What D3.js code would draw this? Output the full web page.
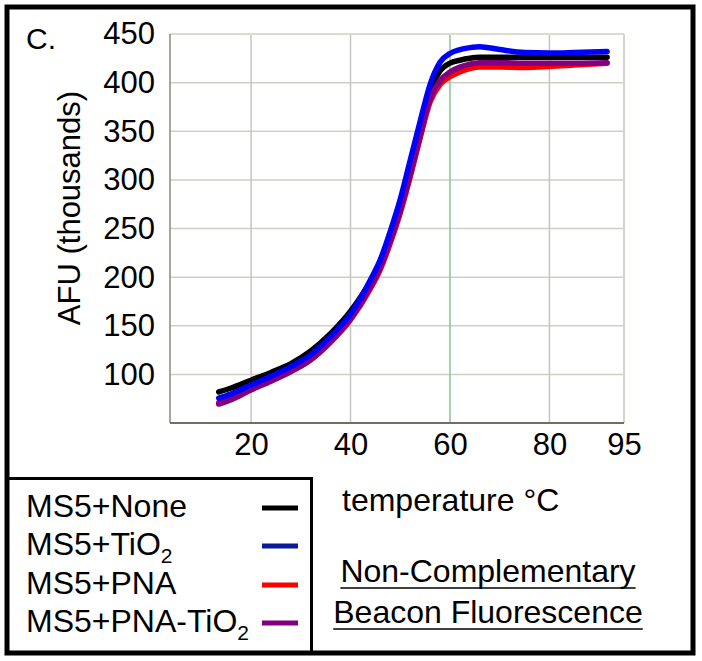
<!DOCTYPE html>
<html>
<head>
<meta charset="utf-8">
<script src="https://cdn.jsdelivr.net/npm/d3@7"></script>
<style>
  body { margin: 0; background: #fff; }
  text { font-family: Arial, "Liberation Sans", sans-serif; fill: #000; }
</style>
</head>
<body>
<div id="chart"></div>
<script>
// temperatures (deg C) where the curves were read
var temps = [13.5, 16, 20, 24, 28, 32, 36, 40, 44, 46, 48, 50, 52, 54, 56, 58, 60, 62, 64, 66, 70, 75, 80, 85, 91.6];

// AFU (thousands) for each sample
var ms5None    = [82, 86, 94, 102, 111, 124, 142, 165, 196, 216, 243, 274, 312, 352, 392, 412, 420, 423, 425, 426, 426, 426, 426, 426, 426];
var ms5Tio2    = [75.5, 80, 89, 98, 108, 120, 139, 162, 197, 218, 247, 280, 320, 360, 398, 421, 430, 434, 436, 437, 434, 431, 430.5, 431, 432];
var ms5Pna     = [71, 75, 85, 94, 103, 115, 133, 156, 188, 208, 235, 266, 303, 343, 380, 398, 406, 411, 414.5, 416, 416, 415.5, 416.5, 418, 420];
var ms5PnaTio2 = [69.5, 74, 84, 93, 103, 115, 134, 157, 190, 210, 237, 268, 305, 345, 383, 402, 411, 416, 419, 420.5, 420.5, 420, 420, 420, 420.5];

var yTicks = [100, 150, 200, 250, 300, 350, 400, 450];
var xTicks = [20, 40, 60, 80, 95];
var xGrid = [20, 40, 60, 80];

var legendLabels = ["MS5+None", "MS5+TiO", "MS5+PNA", "MS5+PNA-TiO"];
var legendSubs = ["", "2", "", "2"];

var lineColors = ["#000000", "#0000ff", "#ff0000", "#800080"];
var legendColors = ["#000000", "#0a1a9a", "#ff0000", "#800080"];

var svgWidth = 702;
var svgHeight = 661;

var plot = { left: 170, top: 34, right: 624, bottom: 423 };

var svg = d3.select("#chart")
    .append("svg")
    .attr("width", svgWidth)
    .attr("height", svgHeight);

svg.append("rect")
    .attr("width", svgWidth)
    .attr("height", svgHeight)
    .attr("fill", "#fff");

var x = d3.scaleLinear().domain([3.7, 95]).range([plot.left, plot.right]);
var y = d3.scaleLinear().domain([50, 450]).range([plot.bottom, plot.top]);

// grid lines
var grid = svg.append("g");
grid.selectAll(".hgrid")
    .data(yTicks.slice(0, -1))
    .enter().append("line")
    .attr("x1", plot.left).attr("x2", plot.right)
    .attr("y1", d => y(d)).attr("y2", d => y(d))
    .attr("stroke", "#cfcfc8")
    .attr("stroke-width", 1.5);

grid.selectAll(".vgrid")
    .data(xGrid)
    .enter().append("line")
    .attr("x1", d => x(d)).attr("x2", d => x(d))
    .attr("y1", plot.top).attr("y2", plot.bottom)
    .attr("stroke", d => d === 60 ? "#8cc48c" : "#c4c4c0")
    .attr("stroke-width", 1.5);

// plot frame: light top/right, darker left/bottom
svg.append("line")
    .attr("x1", plot.left).attr("x2", plot.right)
    .attr("y1", plot.top).attr("y2", plot.top)
    .attr("stroke", "#dcdccc").attr("stroke-width", 2);
svg.append("line")
    .attr("x1", plot.right).attr("x2", plot.right)
    .attr("y1", plot.top).attr("y2", plot.bottom)
    .attr("stroke", "#d4d4c8").attr("stroke-width", 2);
svg.append("line")
    .attr("x1", plot.left).attr("x2", plot.left)
    .attr("y1", plot.top).attr("y2", plot.bottom)
    .attr("stroke", "#8a8a80").attr("stroke-width", 1.5);
svg.append("line")
    .attr("x1", plot.left).attr("x2", plot.right)
    .attr("y1", plot.bottom).attr("y2", plot.bottom)
    .attr("stroke", "#6e6e64").attr("stroke-width", 2);

// axes (labels only)
var yAxis = svg.append("g")
    .attr("transform", "translate(" + plot.left + ",0)")
    .call(d3.axisLeft(y).tickValues(yTicks).tickSize(0).tickPadding(15));
var xAxis = svg.append("g")
    .attr("transform", "translate(0," + plot.bottom + ")")
    .call(d3.axisBottom(x).tickValues(xTicks).tickSize(0).tickPadding(10));

[yAxis, xAxis].forEach(function (ax) {
    ax.select(".domain").remove();
    ax.selectAll("text")
        .attr("font-size", 31)
        .attr("font-family", "Arial, 'Liberation Sans', sans-serif")
        .attr("fill", "#000");
});

// curves
var seriesList = [
    { values: ms5None, color: lineColors[0] },
    { values: ms5Pna, color: lineColors[2] },
    { values: ms5PnaTio2, color: lineColors[3] },
    { values: ms5Tio2, color: lineColors[1] }
];

var valueline = d3.line()
    .x(function (d, i) { return x(temps[i]); })
    .y(function (d) { return y(d); })
    .curve(d3.curveMonotoneX);

svg.selectAll(".curve")
    .data(seriesList)
    .enter().append("path")
    .attr("d", d => valueline(d.values))
    .attr("fill", "none")
    .attr("stroke", d => d.color)
    .attr("stroke-width", 5.5)
    .attr("stroke-linecap", "round")
    .attr("stroke-linejoin", "round");

// panel letter
svg.append("text")
    .attr("x", 26).attr("y", 49)
    .attr("font-size", 30)
    .text("C.");

// y label
svg.append("text")
    .attr("transform", "translate(80,208) rotate(-90)")
    .attr("text-anchor", "middle")
    .attr("font-size", 31)
    .text("AFU (thousands)");

// x label
svg.append("text")
    .attr("x", 342).attr("y", 511)
    .attr("font-size", 32)
    .text("temperature \u00B0C");

// caption with underlines
var caption = ["Non-Complementary", "Beacon Fluorescence"];
var captionY = [582, 623];
caption.forEach(function (c, i) {
    var t = svg.append("text")
        .attr("x", 488).attr("y", captionY[i])
        .attr("text-anchor", "middle")
        .attr("font-size", 32)
        .text(c);
    var w = t.node().getComputedTextLength();
    svg.append("line")
        .attr("x1", 488 - w / 2).attr("x2", 488 + w / 2)
        .attr("y1", captionY[i] + 6).attr("y2", captionY[i] + 6)
        .attr("stroke", "#000").attr("stroke-width", 1.5);
});

// legend box
svg.append("rect")
    .attr("x", 7).attr("y", 478.5)
    .attr("width", 304.5).attr("height", 174)
    .attr("fill", "none")
    .attr("stroke", "#000")
    .attr("stroke-width", 3);

var legendY = [517, 555, 594, 632];
legendLabels.forEach(function (lab, i) {
    var t = svg.append("text")
        .attr("x", 26).attr("y", legendY[i])
        .attr("font-size", 32)
        .text(lab);
    if (legendSubs[i]) {
        t.append("tspan")
            .attr("font-size", 21)
            .attr("dy", 8)
            .text(legendSubs[i]);
    }
    svg.append("line")
        .attr("x1", 262).attr("x2", 298)
        .attr("y1", legendY[i] - 9).attr("y2", legendY[i] - 9)
        .attr("stroke", legendColors[i])
        .attr("stroke-width", 5);
});

// outer frame
svg.append("rect")
    .attr("x", 7).attr("y", 7)
    .attr("width", 686).attr("height", 646)
    .attr("fill", "none")
    .attr("stroke", "#000")
    .attr("stroke-width", 5);
</script>
</body>
</html>
